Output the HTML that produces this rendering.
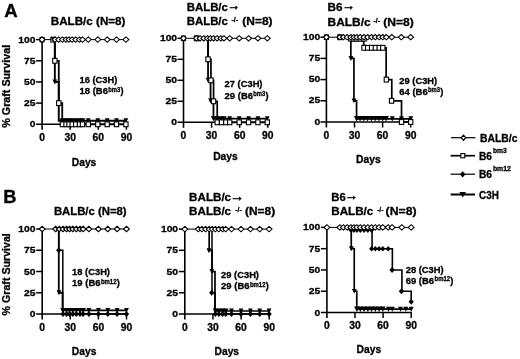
<!DOCTYPE html>
<html lang="en"><head><meta charset="utf-8"><title>Graft survival figure</title>
<style>html,body{margin:0;padding:0;background:#fff}body{width:520px;height:359px;overflow:hidden}svg{display:block}</style>
</head><body>
<svg width="520" height="359" viewBox="0 0 520 359" font-family="'Liberation Sans', sans-serif" font-weight="bold" fill="#000"><style>text{stroke:#000;stroke-width:0.3px;stroke-linejoin:round}</style>
<rect width="520" height="359" fill="#fff"/>
<text x="4.20" y="17.20" font-size="18" text-anchor="start" textLength="13.40" lengthAdjust="spacingAndGlyphs" >A</text>
<text x="3.20" y="203.40" font-size="18" text-anchor="start" textLength="13.20" lengthAdjust="spacingAndGlyphs" >B</text>
<text transform="translate(10.30 86.30) rotate(-90)" font-size="10.4" text-anchor="middle" textLength="82.9" lengthAdjust="spacingAndGlyphs">% Graft Survival</text>
<text transform="translate(10.30 274.30) rotate(-90)" font-size="10.4" text-anchor="middle" textLength="82.2" lengthAdjust="spacingAndGlyphs">% Graft Survival</text>
<path d="M42.10 39.10V129.80" stroke="#000" stroke-width="1.6" fill="none"/>
<path d="M36.10 124.30H127.10" stroke="#000" stroke-width="1.6" fill="none"/>
<text x="35.40" y="127.30" font-size="9.9" text-anchor="end" textLength="5.73" lengthAdjust="spacingAndGlyphs" >0</text>
<path d="M36.10 103.12H42.10" stroke="#000" stroke-width="1.5" fill="none"/>
<text x="35.40" y="106.12" font-size="9.9" text-anchor="end" textLength="11.46" lengthAdjust="spacingAndGlyphs" >25</text>
<path d="M36.10 81.95H42.10" stroke="#000" stroke-width="1.5" fill="none"/>
<text x="35.40" y="84.95" font-size="9.9" text-anchor="end" textLength="11.46" lengthAdjust="spacingAndGlyphs" >50</text>
<path d="M36.10 60.78H42.10" stroke="#000" stroke-width="1.5" fill="none"/>
<text x="35.40" y="63.78" font-size="9.9" text-anchor="end" textLength="11.46" lengthAdjust="spacingAndGlyphs" >75</text>
<path d="M36.10 39.60H42.10" stroke="#000" stroke-width="1.5" fill="none"/>
<text x="35.40" y="42.60" font-size="9.9" text-anchor="end" textLength="17.19" lengthAdjust="spacingAndGlyphs" >100</text>
<text x="42.10" y="140.90" font-size="10.0" text-anchor="middle" textLength="5.73" lengthAdjust="spacingAndGlyphs" >0</text>
<path d="M70.20 124.30V129.80" stroke="#000" stroke-width="1.5" fill="none"/>
<text x="70.20" y="140.90" font-size="10.0" text-anchor="middle" textLength="11.46" lengthAdjust="spacingAndGlyphs" >30</text>
<path d="M98.30 124.30V129.80" stroke="#000" stroke-width="1.5" fill="none"/>
<text x="98.30" y="140.90" font-size="10.0" text-anchor="middle" textLength="11.46" lengthAdjust="spacingAndGlyphs" >60</text>
<path d="M126.40 124.30V129.80" stroke="#000" stroke-width="1.5" fill="none"/>
<text x="126.40" y="140.90" font-size="10.0" text-anchor="middle" textLength="11.46" lengthAdjust="spacingAndGlyphs" >90</text>
<text x="84.05" y="165.70" font-size="10.5" text-anchor="middle" textLength="24.60" lengthAdjust="spacingAndGlyphs" >Days</text>
<path d="M183.50 37.80V127.80" stroke="#000" stroke-width="1.6" fill="none"/>
<path d="M177.50 122.30H268.50" stroke="#000" stroke-width="1.6" fill="none"/>
<text x="177.10" y="125.30" font-size="9.9" text-anchor="end" textLength="5.73" lengthAdjust="spacingAndGlyphs" >0</text>
<path d="M177.50 101.30H183.50" stroke="#000" stroke-width="1.5" fill="none"/>
<text x="177.10" y="104.30" font-size="9.9" text-anchor="end" textLength="11.46" lengthAdjust="spacingAndGlyphs" >25</text>
<path d="M177.50 80.30H183.50" stroke="#000" stroke-width="1.5" fill="none"/>
<text x="177.10" y="83.30" font-size="9.9" text-anchor="end" textLength="11.46" lengthAdjust="spacingAndGlyphs" >50</text>
<path d="M177.50 59.30H183.50" stroke="#000" stroke-width="1.5" fill="none"/>
<text x="177.10" y="62.30" font-size="9.9" text-anchor="end" textLength="11.46" lengthAdjust="spacingAndGlyphs" >75</text>
<path d="M177.50 38.30H183.50" stroke="#000" stroke-width="1.5" fill="none"/>
<text x="177.10" y="41.30" font-size="9.9" text-anchor="end" textLength="17.19" lengthAdjust="spacingAndGlyphs" >100</text>
<text x="183.50" y="138.90" font-size="10.0" text-anchor="middle" textLength="5.73" lengthAdjust="spacingAndGlyphs" >0</text>
<path d="M211.60 122.30V127.80" stroke="#000" stroke-width="1.5" fill="none"/>
<text x="211.60" y="138.90" font-size="10.0" text-anchor="middle" textLength="11.46" lengthAdjust="spacingAndGlyphs" >30</text>
<path d="M239.70 122.30V127.80" stroke="#000" stroke-width="1.5" fill="none"/>
<text x="239.70" y="138.90" font-size="10.0" text-anchor="middle" textLength="11.46" lengthAdjust="spacingAndGlyphs" >60</text>
<path d="M267.80 122.30V127.80" stroke="#000" stroke-width="1.5" fill="none"/>
<text x="267.80" y="138.90" font-size="10.0" text-anchor="middle" textLength="11.46" lengthAdjust="spacingAndGlyphs" >90</text>
<text x="225.45" y="160.40" font-size="10.5" text-anchor="middle" textLength="24.60" lengthAdjust="spacingAndGlyphs" >Days</text>
<path d="M326.40 36.70V127.50" stroke="#000" stroke-width="1.6" fill="none"/>
<path d="M320.40 122.00H411.40" stroke="#000" stroke-width="1.6" fill="none"/>
<text x="320.20" y="124.60" font-size="9.9" text-anchor="end" textLength="5.73" lengthAdjust="spacingAndGlyphs" >0</text>
<path d="M320.40 100.80H326.40" stroke="#000" stroke-width="1.5" fill="none"/>
<text x="320.20" y="103.40" font-size="9.9" text-anchor="end" textLength="11.46" lengthAdjust="spacingAndGlyphs" >25</text>
<path d="M320.40 79.60H326.40" stroke="#000" stroke-width="1.5" fill="none"/>
<text x="320.20" y="82.20" font-size="9.9" text-anchor="end" textLength="11.46" lengthAdjust="spacingAndGlyphs" >50</text>
<path d="M320.40 58.40H326.40" stroke="#000" stroke-width="1.5" fill="none"/>
<text x="320.20" y="61.00" font-size="9.9" text-anchor="end" textLength="11.46" lengthAdjust="spacingAndGlyphs" >75</text>
<path d="M320.40 37.20H326.40" stroke="#000" stroke-width="1.5" fill="none"/>
<text x="320.20" y="39.80" font-size="9.9" text-anchor="end" textLength="17.19" lengthAdjust="spacingAndGlyphs" >100</text>
<text x="326.40" y="138.60" font-size="10.0" text-anchor="middle" textLength="5.73" lengthAdjust="spacingAndGlyphs" >0</text>
<path d="M354.50 122.00V127.50" stroke="#000" stroke-width="1.5" fill="none"/>
<text x="354.50" y="138.60" font-size="10.0" text-anchor="middle" textLength="11.46" lengthAdjust="spacingAndGlyphs" >30</text>
<path d="M382.60 122.00V127.50" stroke="#000" stroke-width="1.5" fill="none"/>
<text x="382.60" y="138.60" font-size="10.0" text-anchor="middle" textLength="11.46" lengthAdjust="spacingAndGlyphs" >60</text>
<path d="M410.70 122.00V127.50" stroke="#000" stroke-width="1.5" fill="none"/>
<text x="410.70" y="138.60" font-size="10.0" text-anchor="middle" textLength="11.46" lengthAdjust="spacingAndGlyphs" >90</text>
<text x="368.35" y="162.80" font-size="10.5" text-anchor="middle" textLength="24.60" lengthAdjust="spacingAndGlyphs" >Days</text>
<path d="M42.20 228.50V319.50" stroke="#000" stroke-width="1.6" fill="none"/>
<path d="M36.20 314.00H127.20" stroke="#000" stroke-width="1.6" fill="none"/>
<text x="35.50" y="317.00" font-size="9.9" text-anchor="end" textLength="5.73" lengthAdjust="spacingAndGlyphs" >0</text>
<path d="M36.20 292.75H42.20" stroke="#000" stroke-width="1.5" fill="none"/>
<text x="35.50" y="295.75" font-size="9.9" text-anchor="end" textLength="11.46" lengthAdjust="spacingAndGlyphs" >25</text>
<path d="M36.20 271.50H42.20" stroke="#000" stroke-width="1.5" fill="none"/>
<text x="35.50" y="274.50" font-size="9.9" text-anchor="end" textLength="11.46" lengthAdjust="spacingAndGlyphs" >50</text>
<path d="M36.20 250.25H42.20" stroke="#000" stroke-width="1.5" fill="none"/>
<text x="35.50" y="253.25" font-size="9.9" text-anchor="end" textLength="11.46" lengthAdjust="spacingAndGlyphs" >75</text>
<path d="M36.20 229.00H42.20" stroke="#000" stroke-width="1.5" fill="none"/>
<text x="35.50" y="232.00" font-size="9.9" text-anchor="end" textLength="17.19" lengthAdjust="spacingAndGlyphs" >100</text>
<text x="42.20" y="330.60" font-size="10.0" text-anchor="middle" textLength="5.73" lengthAdjust="spacingAndGlyphs" >0</text>
<path d="M70.30 314.00V319.50" stroke="#000" stroke-width="1.5" fill="none"/>
<text x="70.30" y="330.60" font-size="10.0" text-anchor="middle" textLength="11.46" lengthAdjust="spacingAndGlyphs" >30</text>
<path d="M98.40 314.00V319.50" stroke="#000" stroke-width="1.5" fill="none"/>
<text x="98.40" y="330.60" font-size="10.0" text-anchor="middle" textLength="11.46" lengthAdjust="spacingAndGlyphs" >60</text>
<path d="M126.50 314.00V319.50" stroke="#000" stroke-width="1.5" fill="none"/>
<text x="126.50" y="330.60" font-size="10.0" text-anchor="middle" textLength="11.46" lengthAdjust="spacingAndGlyphs" >90</text>
<text x="84.15" y="355.00" font-size="10.5" text-anchor="middle" textLength="24.60" lengthAdjust="spacingAndGlyphs" >Days</text>
<path d="M184.80 228.60V319.50" stroke="#000" stroke-width="1.6" fill="none"/>
<path d="M178.80 314.00H269.90" stroke="#000" stroke-width="1.6" fill="none"/>
<text x="178.10" y="317.00" font-size="9.9" text-anchor="end" textLength="5.73" lengthAdjust="spacingAndGlyphs" >0</text>
<path d="M178.80 292.77H184.80" stroke="#000" stroke-width="1.5" fill="none"/>
<text x="178.10" y="295.77" font-size="9.9" text-anchor="end" textLength="11.46" lengthAdjust="spacingAndGlyphs" >25</text>
<path d="M178.80 271.55H184.80" stroke="#000" stroke-width="1.5" fill="none"/>
<text x="178.10" y="274.55" font-size="9.9" text-anchor="end" textLength="11.46" lengthAdjust="spacingAndGlyphs" >50</text>
<path d="M178.80 250.32H184.80" stroke="#000" stroke-width="1.5" fill="none"/>
<text x="178.10" y="253.32" font-size="9.9" text-anchor="end" textLength="11.46" lengthAdjust="spacingAndGlyphs" >75</text>
<path d="M178.80 229.10H184.80" stroke="#000" stroke-width="1.5" fill="none"/>
<text x="178.10" y="232.10" font-size="9.9" text-anchor="end" textLength="17.19" lengthAdjust="spacingAndGlyphs" >100</text>
<text x="184.80" y="330.60" font-size="10.0" text-anchor="middle" textLength="5.73" lengthAdjust="spacingAndGlyphs" >0</text>
<path d="M212.93 314.00V319.50" stroke="#000" stroke-width="1.5" fill="none"/>
<text x="212.93" y="330.60" font-size="10.0" text-anchor="middle" textLength="11.46" lengthAdjust="spacingAndGlyphs" >30</text>
<path d="M241.07 314.00V319.50" stroke="#000" stroke-width="1.5" fill="none"/>
<text x="241.07" y="330.60" font-size="10.0" text-anchor="middle" textLength="11.46" lengthAdjust="spacingAndGlyphs" >60</text>
<path d="M269.20 314.00V319.50" stroke="#000" stroke-width="1.5" fill="none"/>
<text x="269.20" y="330.60" font-size="10.0" text-anchor="middle" textLength="11.46" lengthAdjust="spacingAndGlyphs" >90</text>
<text x="226.80" y="355.00" font-size="10.5" text-anchor="middle" textLength="24.60" lengthAdjust="spacingAndGlyphs" >Days</text>
<path d="M326.90 226.90V318.00" stroke="#000" stroke-width="1.6" fill="none"/>
<path d="M320.90 312.50H411.90" stroke="#000" stroke-width="1.6" fill="none"/>
<text x="320.20" y="315.50" font-size="9.9" text-anchor="end" textLength="5.73" lengthAdjust="spacingAndGlyphs" >0</text>
<path d="M320.90 291.23H326.90" stroke="#000" stroke-width="1.5" fill="none"/>
<text x="320.20" y="294.23" font-size="9.9" text-anchor="end" textLength="11.46" lengthAdjust="spacingAndGlyphs" >25</text>
<path d="M320.90 269.95H326.90" stroke="#000" stroke-width="1.5" fill="none"/>
<text x="320.20" y="272.95" font-size="9.9" text-anchor="end" textLength="11.46" lengthAdjust="spacingAndGlyphs" >50</text>
<path d="M320.90 248.68H326.90" stroke="#000" stroke-width="1.5" fill="none"/>
<text x="320.20" y="251.68" font-size="9.9" text-anchor="end" textLength="11.46" lengthAdjust="spacingAndGlyphs" >75</text>
<path d="M320.90 227.40H326.90" stroke="#000" stroke-width="1.5" fill="none"/>
<text x="320.20" y="230.40" font-size="9.9" text-anchor="end" textLength="17.19" lengthAdjust="spacingAndGlyphs" >100</text>
<text x="326.90" y="329.10" font-size="10.0" text-anchor="middle" textLength="5.73" lengthAdjust="spacingAndGlyphs" >0</text>
<path d="M355.00 312.50V318.00" stroke="#000" stroke-width="1.5" fill="none"/>
<text x="355.00" y="329.10" font-size="10.0" text-anchor="middle" textLength="11.46" lengthAdjust="spacingAndGlyphs" >30</text>
<path d="M383.10 312.50V318.00" stroke="#000" stroke-width="1.5" fill="none"/>
<text x="383.10" y="329.10" font-size="10.0" text-anchor="middle" textLength="11.46" lengthAdjust="spacingAndGlyphs" >60</text>
<path d="M411.20 312.50V318.00" stroke="#000" stroke-width="1.5" fill="none"/>
<text x="411.20" y="329.10" font-size="10.0" text-anchor="middle" textLength="11.46" lengthAdjust="spacingAndGlyphs" >90</text>
<text x="368.85" y="353.00" font-size="10.5" text-anchor="middle" textLength="24.60" lengthAdjust="spacingAndGlyphs" >Days</text>
<path d="M54.84 39.60L54.84 81.95L58.77 81.95L58.77 120.70L126.40 120.70" fill="none" stroke="#000" stroke-width="1.9" stroke-linejoin="miter"/>
<path d="M54.84 39.60L54.84 60.78L58.77 60.78L58.77 103.12L62.24 103.12L62.24 124.30L126.40 124.30" fill="none" stroke="#000" stroke-width="1.8" stroke-linejoin="miter"/>
<path d="M42.10 39.60L126.40 39.60" fill="none" stroke="#000" stroke-width="1.0" stroke-linejoin="miter"/>
<path d="M52.49 79.45L57.19 79.45L54.84 84.45Z" fill="#000"/>
<path d="M59.60 118.20L65.20 118.20L62.40 123.20Z" fill="#000"/>
<path d="M63.20 118.20L68.80 118.20L66.00 123.20Z" fill="#000"/>
<path d="M66.20 118.20L71.80 118.20L69.00 123.20Z" fill="#000"/>
<path d="M69.40 118.20L75.00 118.20L72.20 123.20Z" fill="#000"/>
<path d="M72.90 118.20L78.50 118.20L75.70 123.20Z" fill="#000"/>
<path d="M76.60 118.20L82.20 118.20L79.40 123.20Z" fill="#000"/>
<path d="M79.70 118.20L85.30 118.20L82.50 123.20Z" fill="#000"/>
<path d="M85.95 118.20L90.65 118.20L88.30 123.20Z" fill="#000"/>
<path d="M95.45 118.20L100.15 118.20L97.80 123.20Z" fill="#000"/>
<path d="M104.85 118.20L109.55 118.20L107.20 123.20Z" fill="#000"/>
<path d="M114.15 118.20L118.85 118.20L116.50 123.20Z" fill="#000"/>
<path d="M123.55 118.20L128.25 118.20L125.90 123.20Z" fill="#000"/>
<rect x="40.10" y="37.36" width="4.0" height="4.48" fill="#fff" stroke="#000" stroke-width="1.1"/>
<rect x="50.85" y="37.19" width="4.3" height="4.82" fill="#fff" stroke="#000" stroke-width="1.1"/>
<path d="M50.80 37.30L55.20 37.30L53.00 41.90Z" fill="#000"/>
<rect x="52.69" y="58.37" width="4.3" height="4.82" fill="#fff" stroke="#000" stroke-width="1.1"/>
<rect x="56.62" y="100.72" width="4.3" height="4.82" fill="#fff" stroke="#000" stroke-width="1.1"/>
<rect x="60.25" y="121.89" width="4.3" height="4.82" fill="#fff" stroke="#000" stroke-width="1.1"/>
<rect x="63.85" y="121.89" width="4.3" height="4.82" fill="#fff" stroke="#000" stroke-width="1.1"/>
<rect x="66.85" y="121.89" width="4.3" height="4.82" fill="#fff" stroke="#000" stroke-width="1.1"/>
<rect x="70.05" y="121.89" width="4.3" height="4.82" fill="#fff" stroke="#000" stroke-width="1.1"/>
<rect x="73.55" y="121.89" width="4.3" height="4.82" fill="#fff" stroke="#000" stroke-width="1.1"/>
<rect x="77.25" y="121.89" width="4.3" height="4.82" fill="#fff" stroke="#000" stroke-width="1.1"/>
<rect x="80.35" y="121.89" width="4.3" height="4.82" fill="#fff" stroke="#000" stroke-width="1.1"/>
<rect x="86.15" y="121.89" width="4.3" height="4.82" fill="#fff" stroke="#000" stroke-width="1.1"/>
<rect x="95.65" y="121.89" width="4.3" height="4.82" fill="#fff" stroke="#000" stroke-width="1.1"/>
<rect x="105.05" y="121.89" width="4.3" height="4.82" fill="#fff" stroke="#000" stroke-width="1.1"/>
<rect x="114.35" y="121.89" width="4.3" height="4.82" fill="#fff" stroke="#000" stroke-width="1.1"/>
<rect x="123.75" y="121.89" width="4.3" height="4.82" fill="#fff" stroke="#000" stroke-width="1.1"/>
<path d="M39.15 39.60L42.10 36.89L45.05 39.60L42.10 42.31Z" fill="#fff" stroke="#000" stroke-width="1.05"/>
<path d="M52.15 39.60L55.10 36.89L58.05 39.60L55.10 42.31Z" fill="#fff" stroke="#000" stroke-width="1.05"/>
<path d="M55.75 39.60L58.70 36.89L61.65 39.60L58.70 42.31Z" fill="#fff" stroke="#000" stroke-width="1.05"/>
<path d="M59.45 39.60L62.40 36.89L65.35 39.60L62.40 42.31Z" fill="#fff" stroke="#000" stroke-width="1.05"/>
<path d="M63.05 39.60L66.00 36.89L68.95 39.60L66.00 42.31Z" fill="#fff" stroke="#000" stroke-width="1.05"/>
<path d="M66.05 39.60L69.00 36.89L71.95 39.60L69.00 42.31Z" fill="#fff" stroke="#000" stroke-width="1.05"/>
<path d="M69.25 39.60L72.20 36.89L75.15 39.60L72.20 42.31Z" fill="#fff" stroke="#000" stroke-width="1.05"/>
<path d="M72.75 39.60L75.70 36.89L78.65 39.60L75.70 42.31Z" fill="#fff" stroke="#000" stroke-width="1.05"/>
<path d="M76.45 39.60L79.40 36.89L82.35 39.60L79.40 42.31Z" fill="#fff" stroke="#000" stroke-width="1.05"/>
<path d="M79.55 39.60L82.50 36.89L85.45 39.60L82.50 42.31Z" fill="#fff" stroke="#000" stroke-width="1.05"/>
<path d="M85.35 39.60L88.30 36.89L91.25 39.60L88.30 42.31Z" fill="#fff" stroke="#000" stroke-width="1.05"/>
<path d="M94.85 39.60L97.80 36.89L100.75 39.60L97.80 42.31Z" fill="#fff" stroke="#000" stroke-width="1.05"/>
<path d="M104.25 39.60L107.20 36.89L110.15 39.60L107.20 42.31Z" fill="#fff" stroke="#000" stroke-width="1.05"/>
<path d="M113.55 39.60L116.50 36.89L119.45 39.60L116.50 42.31Z" fill="#fff" stroke="#000" stroke-width="1.05"/>
<path d="M122.95 39.60L125.90 36.89L128.85 39.60L125.90 42.31Z" fill="#fff" stroke="#000" stroke-width="1.05"/>
<path d="M208.04 38.30L208.04 80.30L210.57 80.30L210.57 101.30L213.47 101.30L213.47 118.70L267.80 118.70" fill="none" stroke="#000" stroke-width="1.8" stroke-linejoin="miter"/>
<path d="M208.04 38.30L208.04 59.30L210.94 59.30L210.94 80.30L213.57 80.30L213.57 101.30L217.22 101.30L217.22 122.30L267.80 122.30" fill="none" stroke="#000" stroke-width="1.7" stroke-linejoin="miter"/>
<path d="M183.50 38.30L267.80 38.30" fill="none" stroke="#000" stroke-width="1.0" stroke-linejoin="miter"/>
<path d="M205.69 77.80L210.39 77.80L208.04 82.80Z" fill="#000"/>
<path d="M208.22 98.30L212.92 98.30L210.57 103.30Z" fill="#000"/>
<path d="M210.80 116.20L216.40 116.20L213.60 121.20Z" fill="#000"/>
<path d="M214.30 116.20L219.90 116.20L217.10 121.20Z" fill="#000"/>
<path d="M218.00 116.20L223.60 116.20L220.80 121.20Z" fill="#000"/>
<path d="M221.10 116.20L226.70 116.20L223.90 121.20Z" fill="#000"/>
<path d="M227.35 116.20L232.05 116.20L229.70 121.20Z" fill="#000"/>
<path d="M236.85 116.20L241.55 116.20L239.20 121.20Z" fill="#000"/>
<path d="M246.25 116.20L250.95 116.20L248.60 121.20Z" fill="#000"/>
<path d="M255.55 116.20L260.25 116.20L257.90 121.20Z" fill="#000"/>
<path d="M264.95 116.20L269.65 116.20L267.30 121.20Z" fill="#000"/>
<rect x="181.50" y="36.06" width="4.0" height="4.48" fill="#fff" stroke="#000" stroke-width="1.1"/>
<rect x="194.35" y="35.89" width="4.3" height="4.82" fill="#fff" stroke="#000" stroke-width="1.1"/>
<path d="M194.30 36.00L198.70 36.00L196.50 40.60Z" fill="#000"/>
<rect x="205.89" y="56.89" width="4.3" height="4.82" fill="#fff" stroke="#000" stroke-width="1.1"/>
<rect x="208.79" y="77.89" width="4.3" height="4.82" fill="#fff" stroke="#000" stroke-width="1.1"/>
<rect x="211.42" y="98.89" width="4.3" height="4.82" fill="#fff" stroke="#000" stroke-width="1.1"/>
<rect x="215.05" y="119.89" width="4.3" height="4.82" fill="#fff" stroke="#000" stroke-width="1.1"/>
<rect x="219.35" y="119.89" width="4.3" height="4.82" fill="#fff" stroke="#000" stroke-width="1.1"/>
<rect x="223.65" y="119.89" width="4.3" height="4.82" fill="#fff" stroke="#000" stroke-width="1.1"/>
<rect x="227.55" y="119.89" width="4.3" height="4.82" fill="#fff" stroke="#000" stroke-width="1.1"/>
<rect x="237.05" y="119.89" width="4.3" height="4.82" fill="#fff" stroke="#000" stroke-width="1.1"/>
<rect x="246.45" y="119.89" width="4.3" height="4.82" fill="#fff" stroke="#000" stroke-width="1.1"/>
<rect x="255.75" y="119.89" width="4.3" height="4.82" fill="#fff" stroke="#000" stroke-width="1.1"/>
<rect x="265.15" y="119.89" width="4.3" height="4.82" fill="#fff" stroke="#000" stroke-width="1.1"/>
<path d="M180.55 38.30L183.50 35.59L186.45 38.30L183.50 41.01Z" fill="#fff" stroke="#000" stroke-width="1.05"/>
<path d="M193.55 38.30L196.50 35.59L199.45 38.30L196.50 41.01Z" fill="#fff" stroke="#000" stroke-width="1.05"/>
<path d="M197.15 38.30L200.10 35.59L203.05 38.30L200.10 41.01Z" fill="#fff" stroke="#000" stroke-width="1.05"/>
<path d="M200.85 38.30L203.80 35.59L206.75 38.30L203.80 41.01Z" fill="#fff" stroke="#000" stroke-width="1.05"/>
<path d="M204.45 38.30L207.40 35.59L210.35 38.30L207.40 41.01Z" fill="#fff" stroke="#000" stroke-width="1.05"/>
<path d="M207.45 38.30L210.40 35.59L213.35 38.30L210.40 41.01Z" fill="#fff" stroke="#000" stroke-width="1.05"/>
<path d="M210.65 38.30L213.60 35.59L216.55 38.30L213.60 41.01Z" fill="#fff" stroke="#000" stroke-width="1.05"/>
<path d="M214.15 38.30L217.10 35.59L220.05 38.30L217.10 41.01Z" fill="#fff" stroke="#000" stroke-width="1.05"/>
<path d="M217.85 38.30L220.80 35.59L223.75 38.30L220.80 41.01Z" fill="#fff" stroke="#000" stroke-width="1.05"/>
<path d="M220.95 38.30L223.90 35.59L226.85 38.30L223.90 41.01Z" fill="#fff" stroke="#000" stroke-width="1.05"/>
<path d="M226.75 38.30L229.70 35.59L232.65 38.30L229.70 41.01Z" fill="#fff" stroke="#000" stroke-width="1.05"/>
<path d="M236.25 38.30L239.20 35.59L242.15 38.30L239.20 41.01Z" fill="#fff" stroke="#000" stroke-width="1.05"/>
<path d="M245.65 38.30L248.60 35.59L251.55 38.30L248.60 41.01Z" fill="#fff" stroke="#000" stroke-width="1.05"/>
<path d="M254.95 38.30L257.90 35.59L260.85 38.30L257.90 41.01Z" fill="#fff" stroke="#000" stroke-width="1.05"/>
<path d="M264.35 38.30L267.30 35.59L270.25 38.30L267.30 41.01Z" fill="#fff" stroke="#000" stroke-width="1.05"/>
<path d="M350.85 37.20L350.85 58.40L353.94 58.40L353.94 100.80L356.56 100.80L356.56 118.80L410.70 118.80" fill="none" stroke="#000" stroke-width="1.7" stroke-linejoin="miter"/>
<path d="M363.68 37.20L363.68 47.80L386.16 47.80L386.16 79.60L391.78 79.60L391.78 100.80L401.52 100.80L401.52 122.00L410.70 122.00" fill="none" stroke="#000" stroke-width="1.7" stroke-linejoin="miter"/>
<path d="M326.40 37.20L410.70 37.20" fill="none" stroke="#000" stroke-width="1.0" stroke-linejoin="miter"/>
<path d="M348.50 55.90L353.20 55.90L350.85 60.90Z" fill="#000"/>
<path d="M351.54 98.50L356.34 98.50L353.94 103.10Z" fill="#000"/>
<path d="M353.90 116.00L359.50 116.00L356.70 121.60Z" fill="#000"/>
<path d="M357.30 116.00L362.90 116.00L360.10 121.60Z" fill="#000"/>
<path d="M361.00 116.00L366.60 116.00L363.80 121.60Z" fill="#000"/>
<path d="M364.70 116.00L370.30 116.00L367.50 121.60Z" fill="#000"/>
<path d="M368.60 116.00L374.20 116.00L371.40 121.60Z" fill="#000"/>
<path d="M372.35 116.00L377.95 116.00L375.15 121.60Z" fill="#000"/>
<path d="M376.20 116.00L381.80 116.00L379.00 121.60Z" fill="#000"/>
<path d="M379.80 116.00L385.40 116.00L382.60 121.60Z" fill="#000"/>
<path d="M383.30 116.00L388.90 116.00L386.10 121.60Z" fill="#000"/>
<path d="M389.90 116.20L394.70 116.20L392.30 121.40Z" fill="#000"/>
<path d="M399.10 116.20L403.90 116.20L401.50 121.40Z" fill="#000"/>
<path d="M408.40 116.20L413.20 116.20L410.80 121.40Z" fill="#000"/>
<rect x="324.40" y="34.96" width="4.0" height="4.48" fill="#fff" stroke="#000" stroke-width="1.1"/>
<rect x="337.75" y="34.79" width="4.3" height="4.82" fill="#fff" stroke="#000" stroke-width="1.1"/>
<path d="M337.70 34.90L342.10 34.90L339.90 39.50Z" fill="#000"/>
<rect x="348.75" y="36.29" width="4.3" height="4.82" fill="#fff" stroke="#000" stroke-width="1.1"/>
<rect x="351.75" y="36.29" width="4.3" height="4.82" fill="#fff" stroke="#000" stroke-width="1.1"/>
<rect x="354.75" y="36.29" width="4.3" height="4.82" fill="#fff" stroke="#000" stroke-width="1.1"/>
<rect x="358.15" y="36.29" width="4.3" height="4.82" fill="#fff" stroke="#000" stroke-width="1.1"/>
<rect x="361.85" y="36.29" width="4.3" height="4.82" fill="#fff" stroke="#000" stroke-width="1.1"/>
<rect x="361.85" y="45.39" width="4.3" height="4.82" fill="#fff" stroke="#000" stroke-width="1.1"/>
<rect x="365.55" y="45.39" width="4.3" height="4.82" fill="#fff" stroke="#000" stroke-width="1.1"/>
<rect x="369.45" y="45.39" width="4.3" height="4.82" fill="#fff" stroke="#000" stroke-width="1.1"/>
<rect x="373.20" y="45.39" width="4.3" height="4.82" fill="#fff" stroke="#000" stroke-width="1.1"/>
<rect x="377.05" y="45.39" width="4.3" height="4.82" fill="#fff" stroke="#000" stroke-width="1.1"/>
<rect x="380.65" y="45.39" width="4.3" height="4.82" fill="#fff" stroke="#000" stroke-width="1.1"/>
<rect x="384.20" y="77.19" width="4.3" height="4.82" fill="#fff" stroke="#000" stroke-width="1.1"/>
<rect x="389.44" y="98.39" width="4.3" height="4.82" fill="#fff" stroke="#000" stroke-width="1.1"/>
<rect x="399.37" y="119.59" width="4.3" height="4.82" fill="#fff" stroke="#000" stroke-width="1.1"/>
<rect x="408.55" y="119.59" width="4.3" height="4.82" fill="#fff" stroke="#000" stroke-width="1.1"/>
<path d="M323.45 37.20L326.40 34.49L329.35 37.20L326.40 39.91Z" fill="#fff" stroke="#000" stroke-width="1.05"/>
<path d="M336.95 37.20L339.90 34.49L342.85 37.20L339.90 39.91Z" fill="#fff" stroke="#000" stroke-width="1.05"/>
<path d="M340.50 37.20L343.45 34.49L346.40 37.20L343.45 39.91Z" fill="#fff" stroke="#000" stroke-width="1.05"/>
<path d="M344.25 37.20L347.20 34.49L350.15 37.20L347.20 39.91Z" fill="#fff" stroke="#000" stroke-width="1.05"/>
<path d="M347.95 37.20L350.90 34.49L353.85 37.20L350.90 39.91Z" fill="#fff" stroke="#000" stroke-width="1.05"/>
<path d="M350.95 37.20L353.90 34.49L356.85 37.20L353.90 39.91Z" fill="#fff" stroke="#000" stroke-width="1.05"/>
<path d="M353.95 37.20L356.90 34.49L359.85 37.20L356.90 39.91Z" fill="#fff" stroke="#000" stroke-width="1.05"/>
<path d="M357.35 37.20L360.30 34.49L363.25 37.20L360.30 39.91Z" fill="#fff" stroke="#000" stroke-width="1.05"/>
<path d="M361.05 37.20L364.00 34.49L366.95 37.20L364.00 39.91Z" fill="#fff" stroke="#000" stroke-width="1.05"/>
<path d="M364.75 37.20L367.70 34.49L370.65 37.20L367.70 39.91Z" fill="#fff" stroke="#000" stroke-width="1.05"/>
<path d="M368.65 37.20L371.60 34.49L374.55 37.20L371.60 39.91Z" fill="#fff" stroke="#000" stroke-width="1.05"/>
<path d="M372.40 37.20L375.35 34.49L378.30 37.20L375.35 39.91Z" fill="#fff" stroke="#000" stroke-width="1.05"/>
<path d="M376.25 37.20L379.20 34.49L382.15 37.20L379.20 39.91Z" fill="#fff" stroke="#000" stroke-width="1.05"/>
<path d="M379.85 37.20L382.80 34.49L385.75 37.20L382.80 39.91Z" fill="#fff" stroke="#000" stroke-width="1.05"/>
<path d="M383.35 37.20L386.30 34.49L389.25 37.20L386.30 39.91Z" fill="#fff" stroke="#000" stroke-width="1.05"/>
<path d="M388.85 37.20L391.80 34.49L394.75 37.20L391.80 39.91Z" fill="#fff" stroke="#000" stroke-width="1.05"/>
<path d="M398.35 37.20L401.30 34.49L404.25 37.20L401.30 39.91Z" fill="#fff" stroke="#000" stroke-width="1.05"/>
<path d="M407.75 37.20L410.70 34.49L413.65 37.20L410.70 39.91Z" fill="#fff" stroke="#000" stroke-width="1.05"/>
<path d="M58.78 229.00L58.78 292.75L62.53 292.75L62.53 310.40L126.50 310.40" fill="none" stroke="#000" stroke-width="1.8" stroke-linejoin="miter"/>
<path d="M58.78 229.00L58.78 250.25L62.81 250.25L62.81 314.00L126.50 314.00" fill="none" stroke="#000" stroke-width="1.5" stroke-linejoin="miter"/>
<path d="M42.20 229.00L126.50 229.00" fill="none" stroke="#000" stroke-width="1.0" stroke-linejoin="miter"/>
<path d="M56.63 290.25L61.33 290.25L58.98 295.25Z" fill="#000"/>
<path d="M60.20 307.90L65.80 307.90L63.00 312.90Z" fill="#000"/>
<path d="M63.80 307.90L69.40 307.90L66.60 312.90Z" fill="#000"/>
<path d="M66.80 307.90L72.40 307.90L69.60 312.90Z" fill="#000"/>
<path d="M70.00 307.90L75.60 307.90L72.80 312.90Z" fill="#000"/>
<path d="M73.50 307.90L79.10 307.90L76.30 312.90Z" fill="#000"/>
<path d="M77.20 307.90L82.80 307.90L80.00 312.90Z" fill="#000"/>
<path d="M80.30 307.90L85.90 307.90L83.10 312.90Z" fill="#000"/>
<path d="M86.55 307.90L91.25 307.90L88.90 312.90Z" fill="#000"/>
<path d="M96.05 307.90L100.75 307.90L98.40 312.90Z" fill="#000"/>
<path d="M105.45 307.90L110.15 307.90L107.80 312.90Z" fill="#000"/>
<path d="M114.75 307.90L119.45 307.90L117.10 312.90Z" fill="#000"/>
<path d="M124.15 307.90L128.85 307.90L126.50 312.90Z" fill="#000"/>
<path d="M56.13 250.25L58.78 247.30L61.43 250.25L58.78 253.20Z" fill="#000"/>
<path d="M60.35 314.00L63.00 311.05L65.65 314.00L63.00 316.95Z" fill="#000"/>
<path d="M63.95 314.00L66.60 311.05L69.25 314.00L66.60 316.95Z" fill="#000"/>
<path d="M66.95 314.00L69.60 311.05L72.25 314.00L69.60 316.95Z" fill="#000"/>
<path d="M70.15 314.00L72.80 311.05L75.45 314.00L72.80 316.95Z" fill="#000"/>
<path d="M73.65 314.00L76.30 311.05L78.95 314.00L76.30 316.95Z" fill="#000"/>
<path d="M77.35 314.00L80.00 311.05L82.65 314.00L80.00 316.95Z" fill="#000"/>
<path d="M80.45 314.00L83.10 311.05L85.75 314.00L83.10 316.95Z" fill="#000"/>
<path d="M86.25 314.00L88.90 311.05L91.55 314.00L88.90 316.95Z" fill="#000"/>
<path d="M95.75 314.00L98.40 311.05L101.05 314.00L98.40 316.95Z" fill="#000"/>
<path d="M105.15 314.00L107.80 311.05L110.45 314.00L107.80 316.95Z" fill="#000"/>
<path d="M114.45 314.00L117.10 311.05L119.75 314.00L117.10 316.95Z" fill="#000"/>
<path d="M123.85 314.00L126.50 311.05L129.15 314.00L126.50 316.95Z" fill="#000"/>
<path d="M39.25 229.00L42.20 226.29L45.15 229.00L42.20 231.71Z" fill="#fff" stroke="#000" stroke-width="1.05"/>
<path d="M52.75 229.00L55.70 226.29L58.65 229.00L55.70 231.71Z" fill="#fff" stroke="#000" stroke-width="1.05"/>
<path d="M56.35 229.00L59.30 226.29L62.25 229.00L59.30 231.71Z" fill="#fff" stroke="#000" stroke-width="1.05"/>
<path d="M60.05 229.00L63.00 226.29L65.95 229.00L63.00 231.71Z" fill="#fff" stroke="#000" stroke-width="1.05"/>
<path d="M63.65 229.00L66.60 226.29L69.55 229.00L66.60 231.71Z" fill="#fff" stroke="#000" stroke-width="1.05"/>
<path d="M66.65 229.00L69.60 226.29L72.55 229.00L69.60 231.71Z" fill="#fff" stroke="#000" stroke-width="1.05"/>
<path d="M69.85 229.00L72.80 226.29L75.75 229.00L72.80 231.71Z" fill="#fff" stroke="#000" stroke-width="1.05"/>
<path d="M73.35 229.00L76.30 226.29L79.25 229.00L76.30 231.71Z" fill="#fff" stroke="#000" stroke-width="1.05"/>
<path d="M77.05 229.00L80.00 226.29L82.95 229.00L80.00 231.71Z" fill="#fff" stroke="#000" stroke-width="1.05"/>
<path d="M80.15 229.00L83.10 226.29L86.05 229.00L83.10 231.71Z" fill="#fff" stroke="#000" stroke-width="1.05"/>
<path d="M85.95 229.00L88.90 226.29L91.85 229.00L88.90 231.71Z" fill="#fff" stroke="#000" stroke-width="1.05"/>
<path d="M95.45 229.00L98.40 226.29L101.35 229.00L98.40 231.71Z" fill="#fff" stroke="#000" stroke-width="1.05"/>
<path d="M104.85 229.00L107.80 226.29L110.75 229.00L107.80 231.71Z" fill="#fff" stroke="#000" stroke-width="1.05"/>
<path d="M114.15 229.00L117.10 226.29L120.05 229.00L117.10 231.71Z" fill="#fff" stroke="#000" stroke-width="1.05"/>
<path d="M123.55 229.00L126.50 226.29L129.45 229.00L126.50 231.71Z" fill="#fff" stroke="#000" stroke-width="1.05"/>
<path d="M209.18 229.10L209.18 250.32L212.00 250.32L212.00 271.55L215.00 271.55L215.00 311.00L269.20 311.00" fill="none" stroke="#000" stroke-width="1.7" stroke-linejoin="miter"/>
<path d="M212.00 229.10L212.00 292.77L215.00 292.77L215.00 314.00L269.20 314.00" fill="none" stroke="#000" stroke-width="1.5" stroke-linejoin="miter"/>
<path d="M184.80 229.10L269.20 229.10" fill="none" stroke="#000" stroke-width="1.0" stroke-linejoin="miter"/>
<path d="M206.53 248.22L211.23 248.22L208.88 253.22Z" fill="#000"/>
<path d="M209.45 269.05L214.15 269.05L211.80 274.05Z" fill="#000"/>
<path d="M212.60 308.50L218.20 308.50L215.40 313.50Z" fill="#000"/>
<path d="M216.10 308.50L221.70 308.50L218.90 313.50Z" fill="#000"/>
<path d="M219.80 308.50L225.40 308.50L222.60 313.50Z" fill="#000"/>
<path d="M222.90 308.50L228.50 308.50L225.70 313.50Z" fill="#000"/>
<path d="M229.15 308.50L233.85 308.50L231.50 313.50Z" fill="#000"/>
<path d="M238.65 308.50L243.35 308.50L241.00 313.50Z" fill="#000"/>
<path d="M248.05 308.50L252.75 308.50L250.40 313.50Z" fill="#000"/>
<path d="M257.35 308.50L262.05 308.50L259.70 313.50Z" fill="#000"/>
<path d="M266.75 308.50L271.45 308.50L269.10 313.50Z" fill="#000"/>
<path d="M209.05 292.77L211.70 289.82L214.35 292.77L211.70 295.72Z" fill="#000"/>
<path d="M212.75 314.00L215.40 311.05L218.05 314.00L215.40 316.95Z" fill="#000"/>
<path d="M216.25 314.00L218.90 311.05L221.55 314.00L218.90 316.95Z" fill="#000"/>
<path d="M219.95 314.00L222.60 311.05L225.25 314.00L222.60 316.95Z" fill="#000"/>
<path d="M223.05 314.00L225.70 311.05L228.35 314.00L225.70 316.95Z" fill="#000"/>
<path d="M228.85 314.00L231.50 311.05L234.15 314.00L231.50 316.95Z" fill="#000"/>
<path d="M238.35 314.00L241.00 311.05L243.65 314.00L241.00 316.95Z" fill="#000"/>
<path d="M247.75 314.00L250.40 311.05L253.05 314.00L250.40 316.95Z" fill="#000"/>
<path d="M257.05 314.00L259.70 311.05L262.35 314.00L259.70 316.95Z" fill="#000"/>
<path d="M266.45 314.00L269.10 311.05L271.75 314.00L269.10 316.95Z" fill="#000"/>
<path d="M181.85 229.10L184.80 226.39L187.75 229.10L184.80 231.81Z" fill="#fff" stroke="#000" stroke-width="1.05"/>
<path d="M195.35 229.10L198.30 226.39L201.25 229.10L198.30 231.81Z" fill="#fff" stroke="#000" stroke-width="1.05"/>
<path d="M198.95 229.10L201.90 226.39L204.85 229.10L201.90 231.81Z" fill="#fff" stroke="#000" stroke-width="1.05"/>
<path d="M202.65 229.10L205.60 226.39L208.55 229.10L205.60 231.81Z" fill="#fff" stroke="#000" stroke-width="1.05"/>
<path d="M206.25 229.10L209.20 226.39L212.15 229.10L209.20 231.81Z" fill="#fff" stroke="#000" stroke-width="1.05"/>
<path d="M209.25 229.10L212.20 226.39L215.15 229.10L212.20 231.81Z" fill="#fff" stroke="#000" stroke-width="1.05"/>
<path d="M212.45 229.10L215.40 226.39L218.35 229.10L215.40 231.81Z" fill="#fff" stroke="#000" stroke-width="1.05"/>
<path d="M215.95 229.10L218.90 226.39L221.85 229.10L218.90 231.81Z" fill="#fff" stroke="#000" stroke-width="1.05"/>
<path d="M219.65 229.10L222.60 226.39L225.55 229.10L222.60 231.81Z" fill="#fff" stroke="#000" stroke-width="1.05"/>
<path d="M222.75 229.10L225.70 226.39L228.65 229.10L225.70 231.81Z" fill="#fff" stroke="#000" stroke-width="1.05"/>
<path d="M228.55 229.10L231.50 226.39L234.45 229.10L231.50 231.81Z" fill="#fff" stroke="#000" stroke-width="1.05"/>
<path d="M238.05 229.10L241.00 226.39L243.95 229.10L241.00 231.81Z" fill="#fff" stroke="#000" stroke-width="1.05"/>
<path d="M247.45 229.10L250.40 226.39L253.35 229.10L250.40 231.81Z" fill="#fff" stroke="#000" stroke-width="1.05"/>
<path d="M256.75 229.10L259.70 226.39L262.65 229.10L259.70 231.81Z" fill="#fff" stroke="#000" stroke-width="1.05"/>
<path d="M266.15 229.10L269.10 226.39L272.05 229.10L269.10 231.81Z" fill="#fff" stroke="#000" stroke-width="1.05"/>
<path d="M351.25 227.40L351.25 248.68L354.25 248.68L354.25 291.23L356.78 291.23L356.78 309.20L411.20 309.20" fill="none" stroke="#000" stroke-width="1.7" stroke-linejoin="miter"/>
<path d="M372.05 227.40L372.05 248.68L392.37 248.68L392.37 269.95L401.93 269.95L401.93 291.23L411.20 291.23L411.20 301.86" fill="none" stroke="#000" stroke-width="1.6" stroke-linejoin="miter"/>
<path d="M326.90 227.40L411.20 227.40" fill="none" stroke="#000" stroke-width="1.0" stroke-linejoin="miter"/>
<path d="M348.90 246.18L353.60 246.18L351.25 251.18Z" fill="#000"/>
<path d="M351.85 288.93L356.65 288.93L354.25 293.53Z" fill="#000"/>
<path d="M354.10 306.40L359.70 306.40L356.90 312.00Z" fill="#000"/>
<path d="M357.55 306.40L363.15 306.40L360.35 312.00Z" fill="#000"/>
<path d="M361.30 306.40L366.90 306.40L364.10 312.00Z" fill="#000"/>
<path d="M365.05 306.40L370.65 306.40L367.85 312.00Z" fill="#000"/>
<path d="M368.80 306.40L374.40 306.40L371.60 312.00Z" fill="#000"/>
<path d="M372.55 306.40L378.15 306.40L375.35 312.00Z" fill="#000"/>
<path d="M376.30 306.40L381.90 306.40L379.10 312.00Z" fill="#000"/>
<path d="M380.00 306.40L385.60 306.40L382.80 312.00Z" fill="#000"/>
<path d="M386.00 306.70L391.00 306.70L388.50 311.70Z" fill="#000"/>
<path d="M389.80 306.70L394.80 306.70L392.30 311.70Z" fill="#000"/>
<path d="M398.00 306.70L403.00 306.70L400.50 311.70Z" fill="#000"/>
<path d="M403.30 306.70L408.30 306.70L405.80 311.70Z" fill="#000"/>
<path d="M408.70 306.70L413.70 306.70L411.20 311.70Z" fill="#000"/>
<path d="M347.60 229.00L350.90 225.00L354.20 229.00L350.90 233.00Z" fill="#000"/>
<path d="M350.60 229.00L353.90 225.00L357.20 229.00L353.90 233.00Z" fill="#000"/>
<path d="M353.60 229.00L356.90 225.00L360.20 229.00L356.90 233.00Z" fill="#000"/>
<path d="M357.05 229.00L360.35 225.00L363.65 229.00L360.35 233.00Z" fill="#000"/>
<path d="M360.80 229.00L364.10 225.00L367.40 229.00L364.10 233.00Z" fill="#000"/>
<path d="M364.55 229.00L367.85 225.00L371.15 229.00L367.85 233.00Z" fill="#000"/>
<path d="M368.30 229.00L371.60 225.00L374.90 229.00L371.60 233.00Z" fill="#000"/>
<path d="M369.10 248.68L371.60 245.88L374.10 248.68L371.60 251.48Z" fill="#000"/>
<path d="M372.85 248.68L375.35 245.88L377.85 248.68L375.35 251.48Z" fill="#000"/>
<path d="M376.60 248.68L379.10 245.88L381.60 248.68L379.10 251.48Z" fill="#000"/>
<path d="M380.30 248.68L382.80 245.88L385.30 248.68L382.80 251.48Z" fill="#000"/>
<path d="M385.70 248.68L388.20 245.88L390.70 248.68L388.20 251.48Z" fill="#000"/>
<path d="M389.44 269.95L392.09 267.00L394.74 269.95L392.09 272.90Z" fill="#000"/>
<path d="M398.81 291.23L401.46 288.28L404.11 291.23L401.46 294.18Z" fill="#000"/>
<path d="M408.55 301.86L411.20 298.91L413.85 301.86L411.20 304.81Z" fill="#000"/>
<path d="M323.95 227.40L326.90 224.69L329.85 227.40L326.90 230.11Z" fill="#fff" stroke="#000" stroke-width="1.05"/>
<path d="M336.95 227.40L339.90 224.69L342.85 227.40L339.90 230.11Z" fill="#fff" stroke="#000" stroke-width="1.05"/>
<path d="M340.50 227.40L343.45 224.69L346.40 227.40L343.45 230.11Z" fill="#fff" stroke="#000" stroke-width="1.05"/>
<path d="M344.25 227.40L347.20 224.69L350.15 227.40L347.20 230.11Z" fill="#fff" stroke="#000" stroke-width="1.05"/>
<path d="M347.95 227.40L350.90 224.69L353.85 227.40L350.90 230.11Z" fill="#fff" stroke="#000" stroke-width="1.05"/>
<path d="M350.95 227.40L353.90 224.69L356.85 227.40L353.90 230.11Z" fill="#fff" stroke="#000" stroke-width="1.05"/>
<path d="M353.95 227.40L356.90 224.69L359.85 227.40L356.90 230.11Z" fill="#fff" stroke="#000" stroke-width="1.05"/>
<path d="M357.40 227.40L360.35 224.69L363.30 227.40L360.35 230.11Z" fill="#fff" stroke="#000" stroke-width="1.05"/>
<path d="M361.15 227.40L364.10 224.69L367.05 227.40L364.10 230.11Z" fill="#fff" stroke="#000" stroke-width="1.05"/>
<path d="M364.90 227.40L367.85 224.69L370.80 227.40L367.85 230.11Z" fill="#fff" stroke="#000" stroke-width="1.05"/>
<path d="M368.65 227.40L371.60 224.69L374.55 227.40L371.60 230.11Z" fill="#fff" stroke="#000" stroke-width="1.05"/>
<path d="M372.40 227.40L375.35 224.69L378.30 227.40L375.35 230.11Z" fill="#fff" stroke="#000" stroke-width="1.05"/>
<path d="M376.15 227.40L379.10 224.69L382.05 227.40L379.10 230.11Z" fill="#fff" stroke="#000" stroke-width="1.05"/>
<path d="M379.85 227.40L382.80 224.69L385.75 227.40L382.80 230.11Z" fill="#fff" stroke="#000" stroke-width="1.05"/>
<path d="M385.25 227.40L388.20 224.69L391.15 227.40L388.20 230.11Z" fill="#fff" stroke="#000" stroke-width="1.05"/>
<path d="M389.15 227.40L392.10 224.69L395.05 227.40L392.10 230.11Z" fill="#fff" stroke="#000" stroke-width="1.05"/>
<path d="M398.85 227.40L401.80 224.69L404.75 227.40L401.80 230.11Z" fill="#fff" stroke="#000" stroke-width="1.05"/>
<path d="M408.25 227.40L411.20 224.69L414.15 227.40L411.20 230.11Z" fill="#fff" stroke="#000" stroke-width="1.05"/>
<text x="50.80" y="25.20" font-size="11" text-anchor="start" textLength="74.60" lengthAdjust="spacingAndGlyphs" >BALB/c (N=8)</text>
<text x="53.90" y="215.30" font-size="11" text-anchor="start" textLength="72.70" lengthAdjust="spacingAndGlyphs" >BALB/c (N=8)</text>
<text x="186.70" y="10.60" font-size="11" text-anchor="start" textLength="41.20" lengthAdjust="spacingAndGlyphs" >BALB/c</text>
<text x="186.70" y="24.80" font-size="11" text-anchor="start" textLength="41.20" lengthAdjust="spacingAndGlyphs" >BALB/c</text>
<text x="242.30" y="24.80" font-size="11" text-anchor="start" textLength="30.20" lengthAdjust="spacingAndGlyphs" >(N=8)</text>
<text x="327.60" y="10.80" font-size="11" text-anchor="start" textLength="15.00" lengthAdjust="spacingAndGlyphs" >B6</text>
<text x="327.60" y="25.70" font-size="11" text-anchor="start" textLength="43.00" lengthAdjust="spacingAndGlyphs" >BALB/c</text>
<text x="383.20" y="25.70" font-size="11" text-anchor="start" textLength="30.50" lengthAdjust="spacingAndGlyphs" >(N=8)</text>
<text x="189.10" y="201.30" font-size="11" text-anchor="start" textLength="42.00" lengthAdjust="spacingAndGlyphs" >BALB/c</text>
<text x="189.10" y="215.40" font-size="11" text-anchor="start" textLength="42.00" lengthAdjust="spacingAndGlyphs" >BALB/c</text>
<text x="245.00" y="215.40" font-size="11" text-anchor="start" textLength="30.10" lengthAdjust="spacingAndGlyphs" >(N=8)</text>
<text x="331.30" y="200.50" font-size="11" text-anchor="start" textLength="14.40" lengthAdjust="spacingAndGlyphs" >B6</text>
<text x="331.30" y="215.30" font-size="11" text-anchor="start" textLength="42.00" lengthAdjust="spacingAndGlyphs" >BALB/c</text>
<text x="385.60" y="215.30" font-size="11" text-anchor="start" textLength="30.90" lengthAdjust="spacingAndGlyphs" >(N=8)</text>
<text x="227.40" y="9.96" font-size="12.96" text-anchor="start" style="stroke-width:0.45px">→</text>
<text x="341.85" y="10.22" font-size="13.26" text-anchor="start" style="stroke-width:0.45px">→</text>
<text x="229.89" y="200.90" font-size="14.16" text-anchor="start" style="stroke-width:0.45px">→</text>
<text x="344.49" y="199.98" font-size="13.56" text-anchor="start" style="stroke-width:0.45px">→</text>
<text x="231.60" y="21.80" font-size="6.8" text-anchor="start" >-/-</text>
<text x="373.60" y="22.70" font-size="6.8" text-anchor="start" >-/-</text>
<text x="235.30" y="212.40" font-size="6.8" text-anchor="start" >-/-</text>
<text x="377.00" y="211.80" font-size="6.8" text-anchor="start" >-/-</text>
<text x="79.50" y="83.20" font-size="9.2" text-anchor="start" textLength="37.90" lengthAdjust="spacingAndGlyphs" >16 (C3H)</text>
<text x="79.50" y="94.30" font-size="9.2" text-anchor="start" textLength="28.40" lengthAdjust="spacingAndGlyphs" >18 (B6</text>
<text x="108.20" y="91.70" font-size="6.9" text-anchor="start" textLength="12.00" lengthAdjust="spacingAndGlyphs" >bm3</text>
<text x="120.40" y="94.30" font-size="9.2" text-anchor="start" >)</text>
<text x="224.60" y="87.00" font-size="9.2" text-anchor="start" textLength="37.90" lengthAdjust="spacingAndGlyphs" >27 (C3H)</text>
<text x="224.60" y="98.50" font-size="9.2" text-anchor="start" textLength="28.40" lengthAdjust="spacingAndGlyphs" >29 (B6</text>
<text x="253.30" y="95.90" font-size="6.9" text-anchor="start" textLength="12.00" lengthAdjust="spacingAndGlyphs" >bm3</text>
<text x="265.50" y="98.50" font-size="9.2" text-anchor="start" >)</text>
<text x="399.30" y="84.40" font-size="9.2" text-anchor="start" textLength="37.90" lengthAdjust="spacingAndGlyphs" >29 (C3H)</text>
<text x="399.30" y="95.00" font-size="9.2" text-anchor="start" textLength="28.40" lengthAdjust="spacingAndGlyphs" >64 (B6</text>
<text x="428.00" y="92.40" font-size="6.9" text-anchor="start" textLength="12.00" lengthAdjust="spacingAndGlyphs" >bm3</text>
<text x="440.20" y="95.00" font-size="9.2" text-anchor="start" >)</text>
<text x="72.10" y="275.30" font-size="9.2" text-anchor="start" textLength="37.90" lengthAdjust="spacingAndGlyphs" >18 (C3H)</text>
<text x="72.10" y="286.40" font-size="9.2" text-anchor="start" textLength="28.40" lengthAdjust="spacingAndGlyphs" >19 (B6</text>
<text x="100.90" y="283.80" font-size="6.4" text-anchor="start" textLength="15.60" lengthAdjust="spacingAndGlyphs" >bm12</text>
<text x="116.70" y="286.40" font-size="9.2" text-anchor="start" >)</text>
<text x="221.10" y="278.00" font-size="9.2" text-anchor="start" textLength="37.90" lengthAdjust="spacingAndGlyphs" >29 (C3H)</text>
<text x="221.10" y="289.40" font-size="9.2" text-anchor="start" textLength="28.40" lengthAdjust="spacingAndGlyphs" >29 (B6</text>
<text x="249.90" y="286.80" font-size="6.4" text-anchor="start" textLength="15.60" lengthAdjust="spacingAndGlyphs" >bm12</text>
<text x="265.70" y="289.40" font-size="9.2" text-anchor="start" >)</text>
<text x="405.70" y="272.50" font-size="9.2" text-anchor="start" textLength="37.90" lengthAdjust="spacingAndGlyphs" >28 (C3H)</text>
<text x="405.70" y="283.50" font-size="9.2" text-anchor="start" textLength="28.40" lengthAdjust="spacingAndGlyphs" >69 (B6</text>
<text x="434.50" y="280.90" font-size="6.4" text-anchor="start" textLength="15.60" lengthAdjust="spacingAndGlyphs" >bm12</text>
<text x="450.30" y="283.50" font-size="9.2" text-anchor="start" >)</text>
<path d="M451.10 137.70L475.40 137.70" fill="none" stroke="#000" stroke-width="1.25" stroke-linejoin="miter"/>
<path d="M461.30 137.70L463.50 135.10L465.70 137.70L463.50 140.30Z" fill="#fff" stroke="#000" stroke-width="1.2"/>
<text x="480.00" y="141.60" font-size="10.4" text-anchor="start" textLength="37.40" lengthAdjust="spacingAndGlyphs" >BALB/c</text>
<path d="M450.60 155.70L475.00 155.70" fill="none" stroke="#000" stroke-width="1.7" stroke-linejoin="miter"/>
<rect x="460.80" y="153.60" width="4.0" height="4.20" fill="#fff" stroke="#000" stroke-width="1.1"/>
<text x="479.00" y="159.70" font-size="10.4" text-anchor="start" textLength="13.00" lengthAdjust="spacingAndGlyphs" >B6</text>
<text x="492.90" y="152.50" font-size="6.8" text-anchor="start" textLength="13.70" lengthAdjust="spacingAndGlyphs" >bm3</text>
<path d="M450.60 174.20L475.00 174.20" fill="none" stroke="#000" stroke-width="1.2" stroke-linejoin="miter"/>
<path d="M459.90 174.30L462.70 171.20L465.50 174.30L462.70 177.40Z" fill="#000"/>
<text x="479.00" y="178.40" font-size="10.4" text-anchor="start" textLength="13.00" lengthAdjust="spacingAndGlyphs" >B6</text>
<text x="492.90" y="170.90" font-size="6.8" text-anchor="start" textLength="18.00" lengthAdjust="spacingAndGlyphs" >bm12</text>
<path d="M450.60 194.50L475.00 194.50" fill="none" stroke="#000" stroke-width="2.0" stroke-linejoin="miter"/>
<path d="M459.40 191.90L466.00 191.90L462.70 197.50Z" fill="#000"/>
<text x="479.00" y="199.10" font-size="10.4" text-anchor="start" textLength="19.80" lengthAdjust="spacingAndGlyphs" >C3H</text>
</svg>
</body></html>
